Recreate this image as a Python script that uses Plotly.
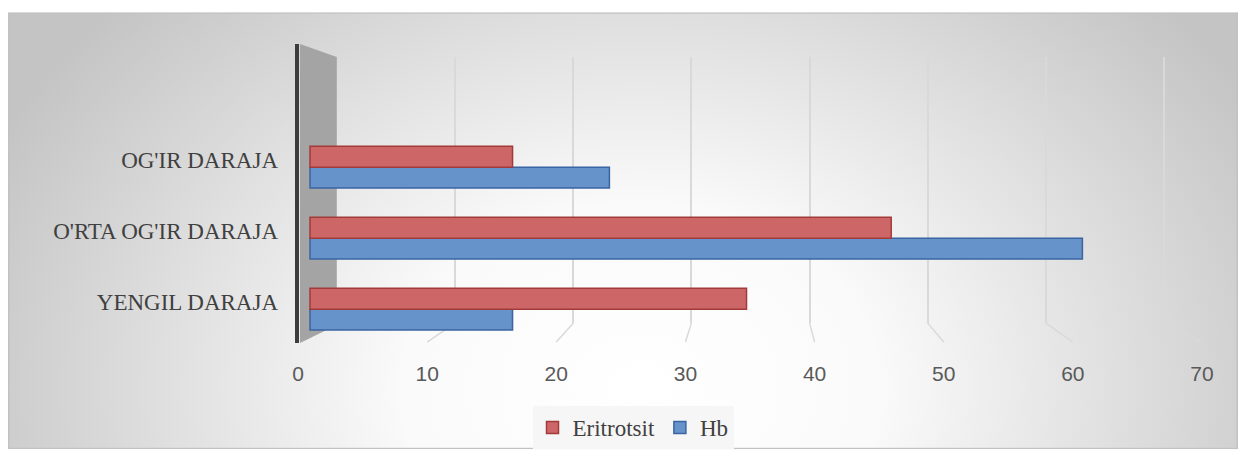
import base64
import plotly.graph_objects as go

# ---------------- data ----------------
categories = ["YENGIL DARAJA", "O'RTA OG'IR DARAJA", "OG'IR DARAJA"]
eritrotsit = [34.7, 46.2, 16.1]
hb = [16.1, 61.4, 23.8]
tick_vals = [0, 10, 20, 30, 40, 50, 60, 70]

# ---------------- geometry helpers (layout only) ----------------
W, H = 1246, 461
L, R, T, B = 298, 44, 44, 116
PW, PH = W - L - R, H - T - B

def px_x(px):
    return (px - L) / PW

def px_y(py):
    return (H - B - py) / PH

FRONT0, FRONTK = 298.0, 12.914   # front (label) plane
BACK0, BACKK = 336.8, 11.82      # back wall plane
BAR0, BARK = 310.0, 12.58        # plane the bars sit in

def front(v):
    return FRONT0 + FRONTK * v

def back(v):
    return BACK0 + BACKK * v

# ---------------- background gradient (svg) ----------------
bw, bh = 1230, 440
svg = f'''<svg xmlns="http://www.w3.org/2000/svg" width="{bw}" height="{bh}" viewBox="0 0 {bw} {bh}">
<defs><radialGradient id="g" gradientUnits="userSpaceOnUse" cx="0" cy="0" r="1"
 gradientTransform="translate(632,378) scale(720,560)">
<stop offset="0" stop-color="#ffffff"/><stop offset="0.33" stop-color="#fafafa"/>
<stop offset="1" stop-color="#c4c4c4"/></radialGradient></defs>
<rect x="0.75" y="0.75" width="{bw-1.5}" height="{bh-1.5}" fill="url(#g)" stroke="#c2c2c2" stroke-width="1.5"/>
</svg>'''
svg_uri = "data:image/svg+xml;base64," + base64.b64encode(svg.encode()).decode()

fig = go.Figure()

# subplot 1: back-wall gridlines (x / y)
fig.add_trace(go.Scatter(x=[0], y=[0], mode="none", xaxis="x", yaxis="y",
                         showlegend=False, hoverinfo="skip"))

# subplot 2: bars (x2 / y2)
fig.add_trace(go.Bar(
    name="Hb", y=categories, x=hb, orientation="h", xaxis="x2", yaxis="y2",
    marker=dict(color="rgb(102,147,202)", line=dict(color="rgb(58,100,162)", width=1.5)),
    legendrank=2,
))
fig.add_trace(go.Bar(
    name="Eritrotsit", y=categories, x=eritrotsit, orientation="h", xaxis="x2", yaxis="y2",
    marker=dict(color="rgb(205,103,103)", line=dict(color="rgb(163,58,58)", width=1.5)),
    legendrank=1,
))
# axis carrying the front tick labels
fig.add_trace(go.Scatter(x=[0], y=[categories[0]], mode="none", xaxis="x3", yaxis="y2",
                         showlegend=False, hoverinfo="skip"))

shapes = []
# left side wall
shapes.append(dict(type="path", xref="paper", yref="paper", layer="below",
                   path=f"M {px_x(300)},{px_y(44)} L {px_x(back(0))},{px_y(57)} "
                        f"L {px_x(back(0))},{px_y(327)} L {px_x(300)},{px_y(345)} Z",
                   fillcolor="#a4a4a4", line=dict(width=0)))
shapes.append(dict(type="line", xref="paper", yref="paper", layer="below",
                   x0=px_x(297), x1=px_x(297), y0=px_y(44), y1=px_y(345),
                   line=dict(color="#3c3c3c", width=4)))
# floor segments of gridlines
for v in tick_vals[1:]:
    shapes.append(dict(type="line", xref="paper", yref="paper", layer="below",
                       x0=px_x(back(v)), y0=px_y(325), x1=px_x(front(v)), y1=px_y(344),
                       line=dict(color="#d9d9d9", width=1.5)))

fig.update_layout(
    width=W, height=H,
    margin=dict(l=L, r=R, t=T, b=B),
    paper_bgcolor="white",
    plot_bgcolor="rgba(0,0,0,0)",
    barmode="group",
    bargap=0.413,
    bargroupgap=0,
    showlegend=True,
    legend=dict(orientation="h", x=px_x(633), y=px_y(430), xanchor="center", yanchor="middle",
                bgcolor="#f6f6f6", font=dict(family="Liberation Serif", size=23, color="#404040"),
                itemwidth=30, tracegroupgap=0),
    xaxis=dict(domain=[0, 1], anchor="y", range=[(L - BACK0) / BACKK, (W - R - BACK0) / BACKK],
               tickvals=tick_vals[1:], showgrid=True, gridcolor="#d9d9d9", gridwidth=1.5,
               showticklabels=False, zeroline=False, showline=False, ticks=""),
    yaxis=dict(domain=[px_y(325), px_y(57)], anchor="x", range=[0, 1], visible=False),
    xaxis2=dict(domain=[0, 1], anchor="y2", range=[(L - BAR0) / BARK, (W - R - BAR0) / BARK],
                visible=False),
    yaxis2=dict(domain=[0, 1], anchor="x2", type="category", categoryorder="array",
                categoryarray=categories, range=[-0.476, 3.734], showgrid=False,
                zeroline=False, showline=False, ticks="", ticklabelshift=-7,
                ticklabelstandoff=19,
                tickfont=dict(family="Liberation Serif", size=23, color="#404040")),
    xaxis3=dict(overlaying="x2", anchor="y2", side="bottom", range=[0, 70],
                tickvals=tick_vals, showgrid=False, zeroline=False, showline=False,
                ticks="", ticklabelstandoff=16,
                tickfont=dict(family="Liberation Sans", size=21, color="#595959")),
    shapes=shapes,
    images=[dict(source=svg_uri, xref="paper", yref="paper", x=px_x(8), y=px_y(12),
                 sizex=bw / PW, sizey=bh / PH, sizing="stretch", xanchor="left",
                 yanchor="top", layer="below")],
)

fig.write_html("out.html")
